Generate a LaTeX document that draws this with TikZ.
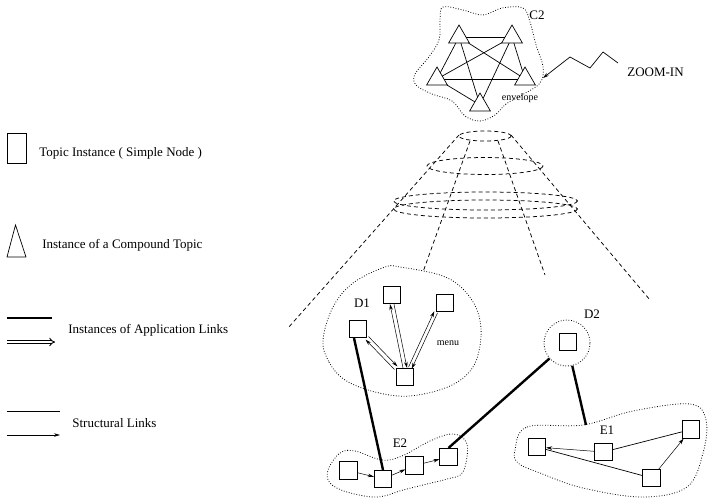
\documentclass[tikz,border=0pt]{standalone}
\usepackage{fontspec}
\setmainfont{Liberation Serif}
\usetikzlibrary{arrows.meta,shapes.geometric}

\begin{document}
\begin{tikzpicture}[x=1pt, y=-1pt, line width=0.7pt,
  topic/.style={draw, minimum size=17.5pt, inner sep=0pt},
  ctopic/.style={draw, regular polygon, regular polygon sides=3,
                 minimum size=24pt, inner sep=0pt, outer sep=0pt},
  slink/.style={-{Stealth[length=6pt, width=3.5pt]}, line width=0.5pt},
  alink/.style={line width=2.4pt},
  envl/.style={dash pattern=on 0.8pt off 1.8pt, line width=0.8pt},
  cone/.style={dash pattern=on 4pt off 3pt, line width=0.75pt},
  lbl/.style={font=\fontsize{13}{15}\selectfont, inner sep=1pt},
  small/.style={font=\fontsize{10}{12}\selectfont, inner sep=1pt}]
  \useasboundingbox (0,0) rectangle (708,499);

  % --- key ---
  \node[draw, minimum width=19pt, minimum height=30pt, inner sep=0pt] (keyTopic) at (16.5,148) {};
  \node[lbl, anchor=west] (keyTopicTxt) at (38,153) {Topic Instance ( Simple Node )};
  \draw (7,257) -- (15.5,225) -- (26,257) -- cycle;
  \node[lbl, anchor=west] (keyCompTxt) at (41,245) {Instance of a Compound Topic};
  \draw[alink] (7,318) -- (52,318);
  \draw[double, double distance=2pt, line width=0.9pt, -{Implies}] (7,342) -- (55,342);
  \node[lbl, anchor=west] (keyAppTxt) at (67,330) {Instances of Application Links};
  \draw (7,411) -- (60,411);
  \draw[slink] (7,435) -- (60,435);
  \node[lbl, anchor=west] (keyStrTxt) at (71,423) {Structural Links};

  % --- compound topic C2 and its envelope ---
  \node[ctopic] (t1) at (459,37) {};
  \node[ctopic] (t2) at (512,37) {};
  \node[ctopic] (t3) at (437,79) {};
  \node[ctopic] (t4) at (525,79) {};
  \node[ctopic] (t5) at (480,105) {};
  \foreach \a/\b in {t1/t2,t1/t3,t1/t4,t1/t5,t2/t3,t2/t4,t2/t5,t3/t4,t3/t5}{
    \draw (\a) -- (\b);
  }
  \draw[envl] plot[smooth cycle, tension=0.6] coordinates {(443,7) (463,10) (483,15) (502,8)
    (523,8) (530,22) (536,45) (543,67) (540,83) (522,95) (506,104) (495,115) (480,121)
    (465,116) (452,101) (432,94) (416,85) (415,74) (428,58) (439,40) (440,20)};
  \node[lbl] (c2) at (537,15) {C2};
  \node[small] (env) at (520,98) {envelope};
  \coordinate (c2env) at (543,78);
  \node[lbl, anchor=west] (zoomTxt) at (626,72) {ZOOM-IN};
  \draw[slink, line width=0.7pt] (618,63) -- (603,52) -- (590,68) -- (570,57) -- (c2env);

  % --- the zoom cone ---
  \draw[cone] (485,136) ellipse [x radius=26, y radius=5];
  \draw[cone] (485,166) ellipse [x radius=58, y radius=8.5];
  \draw[cone] (485.5,201) ellipse [x radius=92, y radius=9];
  \draw[cone] (485.5,209) ellipse [x radius=92, y radius=9];
  \coordinate (coneTL) at (459,135);
  \coordinate (coneTR) at (511,135);
  \coordinate (coneIL) at (470,141);
  \coordinate (coneIR) at (498,141);
  \draw[cone] (coneTL) -- (288,328);
  \draw[cone] (coneTR) -- (650,300);
  \draw[cone] (coneIL) -- (423,272);
  \draw[cone] (coneIR) -- (545,275);

  % --- D1 ---
  \draw[envl] plot[smooth cycle, tension=0.6] coordinates {(323,340) (329,362) (345,380)
    (375,392) (410,396) (450,386) (473,367) (481,337) (477,310) (462,288) (440,275)
    (400,267) (385,267) (353,283) (333,307)};
  \node[lbl] (d1) at (362,303) {D1};
  \node[small] (menu) at (448,343) {menu};
  \node[topic] (a) at (358,329) {};
  \node[topic] (b) at (392,295) {};
  \node[topic] (c) at (445,303) {};
  \node[topic] (d) at (405,377) {};
  \draw[slink] ([shift={(1.5,-1.5)}]a.south east) -- ([shift={(1.5,-1.5)}]d.north west);
  \draw[slink] ([shift={(-1.5,1.5)}]d.north west) -- ([shift={(-1.5,1.5)}]a.south east);
  \draw[slink] ([xshift=2pt]b.south) -- ([xshift=2pt]d.north);
  \draw[slink] ([xshift=-2pt]d.north) -- ([xshift=-2pt]b.south);
  \draw[slink] ([shift={(1.6,0.8)}]c.south west) -- ([shift={(-2.4,0.8)}]d.north east);
  \draw[slink] ([shift={(-5.6,-0.8)}]d.north east) -- ([shift={(-1.6,-0.8)}]c.south west);

  % --- D2 ---
  \node[envl, draw, circle, minimum size=46pt] (d2env) at (567,343) {};
  \node[topic] (d2sq) at (568,342) {};
  \node[lbl] (d2) at (592,314) {D2};

  % --- E2 ---
  \draw[envl] plot[smooth cycle, tension=0.6] coordinates {(328,470) (340,453) (355,451)
    (382,460) (402,456) (430,441) (453,434) (467,444) (463,472) (447,479) (427,484)
    (403,490) (377,497) (347,492) (330,483)};
  \node[lbl] (e2lbl) at (400,443) {E2};
  \node[topic] (e1) at (348.5,470.5) {};
  \node[topic] (e2) at (383,479) {};
  \node[topic] (e3) at (414.5,465.5) {};
  \node[topic] (e4) at (448.5,457) {};
  \draw[slink] (e1) -- (e2);
  \draw[slink] (e2) -- (e3);
  \draw[slink] (e3) -- (e4);

  % --- E1 ---
  \draw[envl] plot[smooth cycle, tension=0.6] coordinates {(515,450) (527,427) (583,425)
    (633,411) (690,404) (706,420) (703,453) (687,487) (643,497) (583,488) (540,473)
    (518,463)};
  \node[lbl] (e1lbl) at (607,430) {E1};
  \node[topic] (f1) at (537,447) {};
  \node[topic] (f2) at (603.5,452) {};
  \node[topic] (f3) at (691,429.5) {};
  \node[topic] (f4) at (651.5,478) {};
  \draw[slink] (f2) -- (f1);
  \draw (f2) -- (f3);
  \draw (f1) -- (f4);
  \draw[slink] (f4) -- (f3);
  \coordinate (e1env) at (586,425);

  % --- application links ---
  \draw[alink] ([xshift=-4pt]a.south) -- (e2.north);
  \draw[alink] (e4.north) -- (d2env);
  \draw[alink] (d2env) -- (e1env);
\end{tikzpicture}
\end{document}
